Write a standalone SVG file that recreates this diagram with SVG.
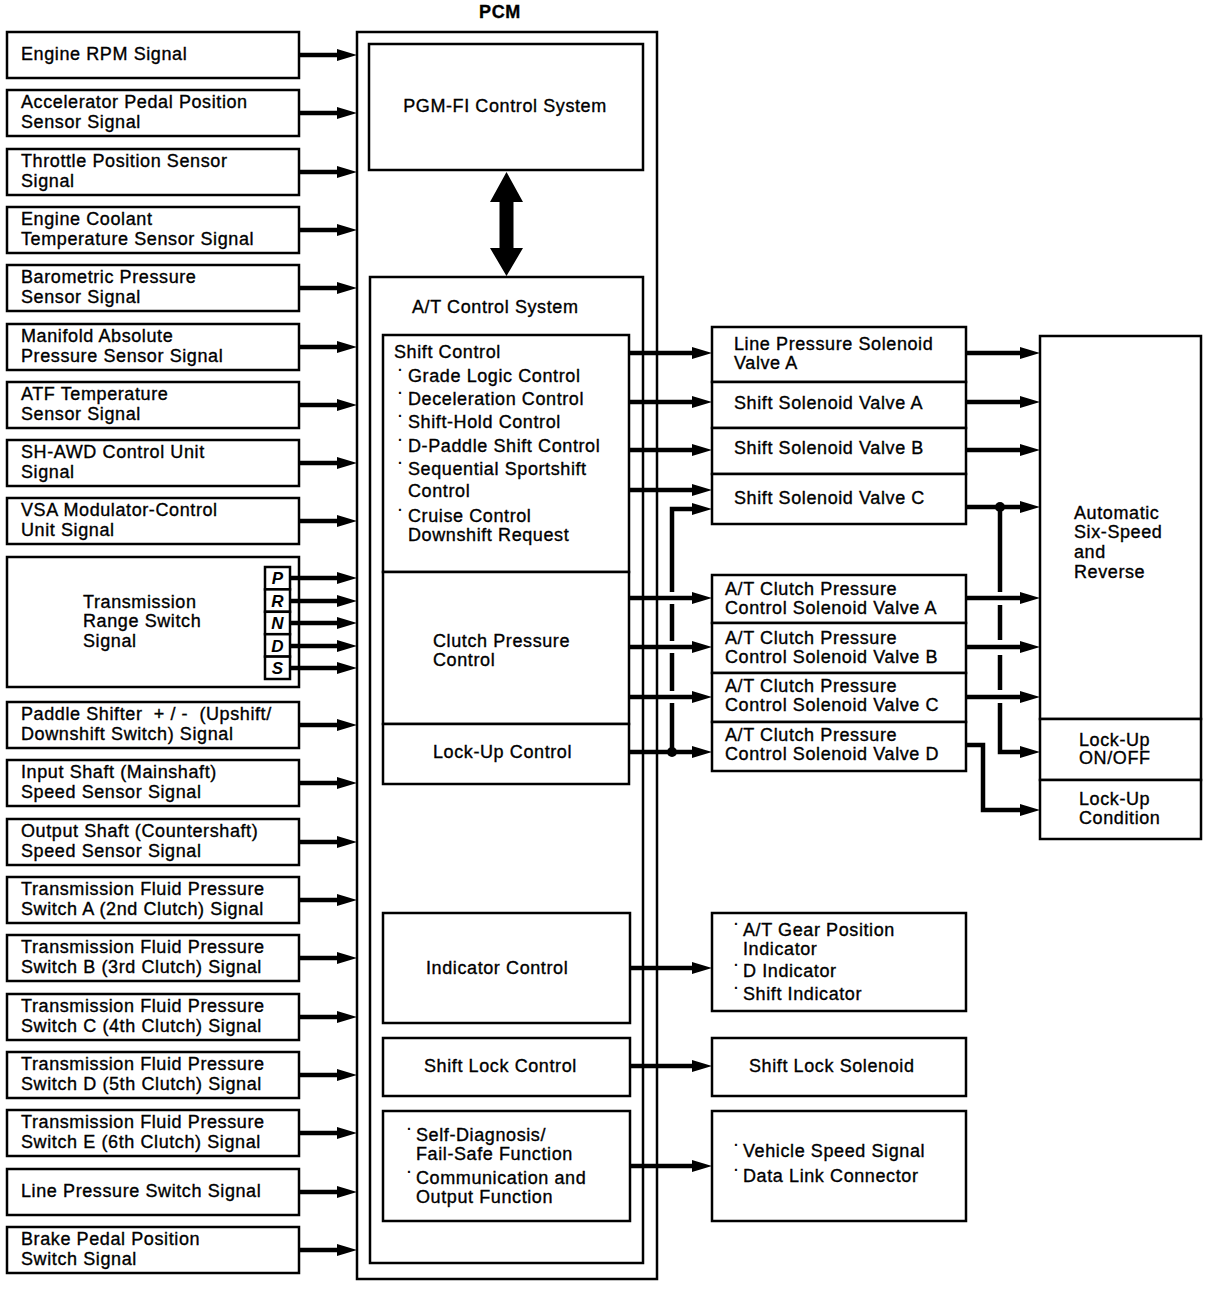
<svg xmlns="http://www.w3.org/2000/svg" width="1216" height="1290" viewBox="0 0 1216 1290">
<style>
.box{fill:#fff;stroke:#000;stroke-width:2.5}
.t{font-family:"Liberation Sans",Arial,sans-serif;font-size:18px;letter-spacing:0.6px;fill:#000;stroke:#000;stroke-width:0.35}
.d{font-family:"Liberation Sans",Arial,sans-serif;font-size:14px;font-weight:bold;fill:#000}
.b{font-weight:bold}
.c{text-anchor:middle}
.w{stroke:#000;stroke-width:4.5;fill:none}
.a{marker-end:url(#ah)}
.L{font-family:"Liberation Sans",Arial,sans-serif;font-size:17px;font-weight:bold;font-style:italic;text-anchor:middle}
</style>
<defs>
<marker id="ah" markerUnits="userSpaceOnUse" markerWidth="20" markerHeight="12" refX="8" refY="6" orient="auto" overflow="visible">
<path d="M0,0 L20,6 L0,12 z" fill="#000"/>
</marker>
</defs>
<rect width="1216" height="1290" fill="#fff"/>

<text class="t b c" x="500" y="18" font-size="17">PCM</text>

<g id="pcm">
<rect class="box" x="357" y="32" width="300" height="1247"/>
</g>
<g id="pgmfi">
<rect class="box" x="369" y="44" width="274" height="126"/>
<text class="t c" x="505" y="112">PGM-FI Control System</text>
</g>
<g id="at-control">
<rect class="box" x="370" y="277" width="273" height="986"/>
<text class="t" x="412" y="313">A/T Control System</text>
</g>
<g id="shift-control">
<rect class="box" x="383" y="335" width="246" height="237"/>
<text class="t" x="394" y="358">Shift Control</text>
<text class="d" x="398" y="375">·</text><text class="t" x="408" y="382">Grade Logic Control</text>
<text class="d" x="398" y="398">·</text><text class="t" x="408" y="405">Deceleration Control</text>
<text class="d" x="398" y="421">·</text><text class="t" x="408" y="428">Shift-Hold Control</text>
<text class="d" x="398" y="445">·</text><text class="t" x="408" y="452">D-Paddle Shift Control</text>
<text class="d" x="398" y="468">·</text><text class="t" x="408" y="475">Sequential Sportshift</text>
<text class="t" x="408" y="497">Control</text>
<text class="d" x="398" y="515">·</text><text class="t" x="408" y="522">Cruise Control</text>
<text class="t" x="408" y="541">Downshift Request</text>
</g>
<g id="clutch-pressure-control">
<rect class="box" x="383" y="572" width="246" height="152"/>
<text class="t" x="433" y="647">Clutch Pressure</text>
<text class="t" x="433" y="666">Control</text>
</g>
<g id="lockup-control">
<rect class="box" x="383" y="724" width="246" height="60"/>
<text class="t" x="433" y="758">Lock-Up Control</text>
</g>
<g id="indicator-control">
<rect class="box" x="383" y="913" width="247" height="110"/>
<text class="t" x="426" y="974">Indicator Control</text>
</g>
<g id="shift-lock-control">
<rect class="box" x="383" y="1038" width="247" height="58"/>
<text class="t" x="424" y="1072">Shift Lock Control</text>
</g>
<g id="self-diagnosis">
<rect class="box" x="383" y="1111" width="247" height="110"/>
<text class="d" x="407" y="1134">·</text><text class="t" x="416" y="1141">Self-Diagnosis/</text>
<text class="t" x="416" y="1160">Fail-Safe Function</text>
<text class="d" x="407" y="1177">·</text><text class="t" x="416" y="1184">Communication and</text>
<text class="t" x="416" y="1203">Output Function</text>
</g>

<g id="inputs">
<g id="in-engine-rpm"><rect class="box" x="7" y="32" width="292" height="46"/><text class="t" x="21" y="59.5">Engine RPM Signal</text></g>
<g id="in-app"><rect class="box" x="7" y="90" width="292" height="46"/><text class="t" x="21" y="108">Accelerator Pedal Position</text><text class="t" x="21" y="127.5">Sensor Signal</text></g>
<g id="in-tps"><rect class="box" x="7" y="149" width="292" height="46"/><text class="t" x="21" y="167">Throttle Position Sensor</text><text class="t" x="21" y="186.5">Signal</text></g>
<g id="in-ect"><rect class="box" x="7" y="207" width="292" height="46"/><text class="t" x="21" y="225">Engine Coolant</text><text class="t" x="21" y="244.5">Temperature Sensor Signal</text></g>
<g id="in-baro"><rect class="box" x="7" y="265" width="292" height="46"/><text class="t" x="21" y="283">Barometric Pressure</text><text class="t" x="21" y="302.5">Sensor Signal</text></g>
<g id="in-map"><rect class="box" x="7" y="324" width="292" height="46"/><text class="t" x="21" y="342">Manifold Absolute</text><text class="t" x="21" y="361.5">Pressure Sensor Signal</text></g>
<g id="in-atf"><rect class="box" x="7" y="382" width="292" height="46"/><text class="t" x="21" y="400">ATF Temperature</text><text class="t" x="21" y="419.5">Sensor Signal</text></g>
<g id="in-shawd"><rect class="box" x="7" y="440" width="292" height="46"/><text class="t" x="21" y="458">SH-AWD Control Unit</text><text class="t" x="21" y="477.5">Signal</text></g>
<g id="in-vsa"><rect class="box" x="7" y="498" width="292" height="46"/><text class="t" x="21" y="516">VSA Modulator-Control</text><text class="t" x="21" y="535.5">Unit Signal</text></g>
<g id="in-trs">
<rect class="box" x="7" y="557" width="292" height="130"/>
<text class="t" x="83" y="608">Transmission</text>
<text class="t" x="83" y="627">Range Switch</text>
<text class="t" x="83" y="647">Signal</text>
<rect class="box" x="265" y="567" width="25" height="22.4"/>
<rect class="box" x="265" y="589.4" width="25" height="22.4"/>
<rect class="box" x="265" y="611.8" width="25" height="22.4"/>
<rect class="box" x="265" y="634.2" width="25" height="22.4"/>
<rect class="box" x="265" y="656.6" width="25" height="22.4"/>
<text class="L" x="277.5" y="584">P</text>
<text class="L" x="277.5" y="607">R</text>
<text class="L" x="277.5" y="629">N</text>
<text class="L" x="277.5" y="652">D</text>
<text class="L" x="277.5" y="674">S</text>
</g>
<g id="in-paddle"><rect class="box" x="7" y="702" width="292" height="46"/><text class="t" x="21" y="720" xml:space="preserve">Paddle Shifter  + / -  (Upshift/</text><text class="t" x="21" y="739.5">Downshift Switch) Signal</text></g>
<g id="in-mainshaft"><rect class="box" x="7" y="760" width="292" height="46"/><text class="t" x="21" y="778">Input Shaft (Mainshaft)</text><text class="t" x="21" y="797.5">Speed Sensor Signal</text></g>
<g id="in-countershaft"><rect class="box" x="7" y="819" width="292" height="46"/><text class="t" x="21" y="837">Output Shaft (Countershaft)</text><text class="t" x="21" y="856.5">Speed Sensor Signal</text></g>
<g id="in-tfp-a"><rect class="box" x="7" y="877" width="292" height="46"/><text class="t" x="21" y="895">Transmission Fluid Pressure</text><text class="t" x="21" y="914.5">Switch A (2nd Clutch) Signal</text></g>
<g id="in-tfp-b"><rect class="box" x="7" y="935" width="292" height="46"/><text class="t" x="21" y="953">Transmission Fluid Pressure</text><text class="t" x="21" y="972.5">Switch B (3rd Clutch) Signal</text></g>
<g id="in-tfp-c"><rect class="box" x="7" y="994" width="292" height="46"/><text class="t" x="21" y="1012">Transmission Fluid Pressure</text><text class="t" x="21" y="1031.5">Switch C (4th Clutch) Signal</text></g>
<g id="in-tfp-d"><rect class="box" x="7" y="1052" width="292" height="46"/><text class="t" x="21" y="1070">Transmission Fluid Pressure</text><text class="t" x="21" y="1089.5">Switch D (5th Clutch) Signal</text></g>
<g id="in-tfp-e"><rect class="box" x="7" y="1110" width="292" height="46"/><text class="t" x="21" y="1128">Transmission Fluid Pressure</text><text class="t" x="21" y="1147.5">Switch E (6th Clutch) Signal</text></g>
<g id="in-lps"><rect class="box" x="7" y="1169" width="292" height="46"/><text class="t" x="21" y="1196.5">Line Pressure Switch Signal</text></g>
<g id="in-brake"><rect class="box" x="7" y="1227" width="292" height="46"/><text class="t" x="21" y="1245">Brake Pedal Position</text><text class="t" x="21" y="1264.5">Switch Signal</text></g>
</g>

<g id="outputs">
<g id="v-lpsa"><rect class="box" x="712" y="327" width="254" height="55"/><text class="t" x="734" y="350">Line Pressure Solenoid</text><text class="t" x="734" y="369">Valve A</text></g>
<g id="v-ssa"><rect class="box" x="712" y="382" width="254" height="46"/><text class="t" x="734" y="409">Shift Solenoid Valve A</text></g>
<g id="v-ssb"><rect class="box" x="712" y="428" width="254" height="46"/><text class="t" x="734" y="454">Shift Solenoid Valve B</text></g>
<g id="v-ssc"><rect class="box" x="712" y="474" width="254" height="50"/><text class="t" x="734" y="504">Shift Solenoid Valve C</text></g>
<g id="v-cpa"><rect class="box" x="712" y="575" width="254" height="48"/><text class="t" x="725" y="595">A/T Clutch Pressure</text><text class="t" x="725" y="614">Control Solenoid Valve A</text></g>
<g id="v-cpb"><rect class="box" x="712" y="623" width="254" height="50"/><text class="t" x="725" y="644">A/T Clutch Pressure</text><text class="t" x="725" y="663">Control Solenoid Valve B</text></g>
<g id="v-cpc"><rect class="box" x="712" y="673" width="254" height="49"/><text class="t" x="725" y="692">A/T Clutch Pressure</text><text class="t" x="725" y="711">Control Solenoid Valve C</text></g>
<g id="v-cpd"><rect class="box" x="712" y="722" width="254" height="49"/><text class="t" x="725" y="741">A/T Clutch Pressure</text><text class="t" x="725" y="760">Control Solenoid Valve D</text></g>
<g id="auto-trans"><rect class="box" x="1040" y="336" width="161" height="383"/><text class="t" x="1074" y="519">Automatic</text><text class="t" x="1074" y="538">Six-Speed</text><text class="t" x="1074" y="558">and</text><text class="t" x="1074" y="578">Reverse</text></g>
<g id="lockup-onoff"><rect class="box" x="1040" y="719" width="161" height="61"/><text class="t" x="1079" y="746">Lock-Up</text><text class="t" x="1079" y="764">ON/OFF</text></g>
<g id="lockup-condition"><rect class="box" x="1040" y="780" width="161" height="59"/><text class="t" x="1079" y="805">Lock-Up</text><text class="t" x="1079" y="824">Condition</text></g>
<g id="indicators"><rect class="box" x="712" y="913" width="254" height="98"/>
<text class="d" x="734" y="929">·</text><text class="t" x="743" y="936">A/T Gear Position</text>
<text class="t" x="743" y="955">Indicator</text>
<text class="d" x="734" y="970">·</text><text class="t" x="743" y="977">D Indicator</text>
<text class="d" x="734" y="993">·</text><text class="t" x="743" y="1000">Shift Indicator</text>
</g>
<g id="shift-lock-solenoid"><rect class="box" x="712" y="1038" width="254" height="58"/><text class="t" x="749" y="1072">Shift Lock Solenoid</text></g>
<g id="vss-dlc"><rect class="box" x="712" y="1111" width="254" height="110"/>
<text class="d" x="734" y="1150">·</text><text class="t" x="743" y="1157">Vehicle Speed Signal</text>
<text class="d" x="734" y="1175">·</text><text class="t" x="743" y="1182">Data Link Connector</text>
</g>
</g>

<g id="connectors">
<g class="w a">
<line x1="299" y1="55" x2="345" y2="55"/>
<line x1="299" y1="113" x2="345" y2="113"/>
<line x1="299" y1="172" x2="345" y2="172"/>
<line x1="299" y1="230" x2="345" y2="230"/>
<line x1="299" y1="288" x2="345" y2="288"/>
<line x1="299" y1="347" x2="345" y2="347"/>
<line x1="299" y1="405" x2="345" y2="405"/>
<line x1="299" y1="463" x2="345" y2="463"/>
<line x1="299" y1="521" x2="345" y2="521"/>
<line x1="290" y1="578" x2="345" y2="578"/>
<line x1="290" y1="601" x2="345" y2="601"/>
<line x1="290" y1="623" x2="345" y2="623"/>
<line x1="290" y1="646" x2="345" y2="646"/>
<line x1="290" y1="668" x2="345" y2="668"/>
<line x1="299" y1="725" x2="345" y2="725"/>
<line x1="299" y1="783" x2="345" y2="783"/>
<line x1="299" y1="842" x2="345" y2="842"/>
<line x1="299" y1="900" x2="345" y2="900"/>
<line x1="299" y1="958" x2="345" y2="958"/>
<line x1="299" y1="1017" x2="345" y2="1017"/>
<line x1="299" y1="1075" x2="345" y2="1075"/>
<line x1="299" y1="1133" x2="345" y2="1133"/>
<line x1="299" y1="1192" x2="345" y2="1192"/>
<line x1="299" y1="1250" x2="345" y2="1250"/>

<line x1="629" y1="353" x2="700" y2="353"/>
<line x1="629" y1="402" x2="700" y2="402"/>
<line x1="629" y1="450" x2="700" y2="450"/>
<line x1="629" y1="490" x2="700" y2="490"/>
<path d="M672,592 V509 H700"/>
<line x1="629" y1="598" x2="700" y2="598"/>
<line x1="629" y1="647" x2="700" y2="647"/>
<line x1="629" y1="697" x2="700" y2="697"/>
<line x1="629" y1="752" x2="700" y2="752"/>

<line x1="966" y1="353" x2="1028" y2="353"/>
<line x1="966" y1="402" x2="1028" y2="402"/>
<line x1="966" y1="450" x2="1028" y2="450"/>
<line x1="966" y1="507" x2="1028" y2="507"/>
<line x1="966" y1="598" x2="1028" y2="598"/>
<line x1="966" y1="647" x2="1028" y2="647"/>
<line x1="966" y1="697" x2="1028" y2="697"/>
<path d="M1000,703 V752 H1028"/>
<path d="M966,745 H983 V810 H1028"/>

<line x1="630" y1="968" x2="700" y2="968"/>
<line x1="630" y1="1066" x2="700" y2="1066"/>
<line x1="630" y1="1166" x2="700" y2="1166"/>
</g>
<g class="w">
<line x1="672" y1="604" x2="672" y2="641"/>
<line x1="672" y1="653" x2="672" y2="691"/>
<line x1="672" y1="703" x2="672" y2="752"/>
<line x1="1000" y1="507" x2="1000" y2="592"/>
<line x1="1000" y1="605" x2="1000" y2="640"/>
<line x1="1000" y1="655" x2="1000" y2="690"/>
</g>
<circle cx="672" cy="752" r="5"/>
<circle cx="1000" cy="507" r="5"/>
<polygon points="506.5,172 523,202 513.5,202 513.5,248 523,248 506.5,276 490,248 499.5,248 499.5,202 490,202"/>
</g>
</svg>
